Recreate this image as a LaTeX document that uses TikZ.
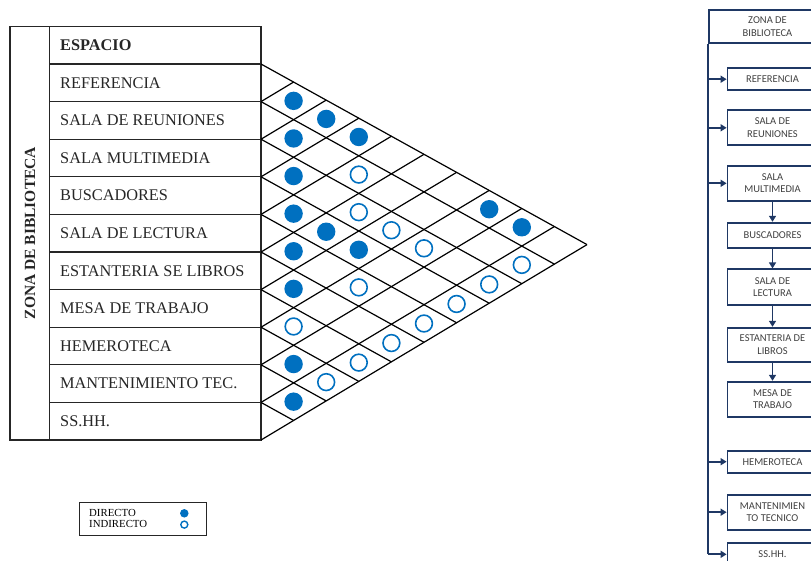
\documentclass[tikz,border=0pt]{standalone}
\usepackage{fontspec}
\setmainfont{Liberation Serif}
\newfontfamily\boxfont{Carlito}
\usetikzlibrary{arrows.meta,positioning}
\definecolor{navy}{RGB}{31,56,100}
\definecolor{dotblue}{RGB}{0,112,192}
\begin{document}
\begin{tikzpicture}[x=1pt, y=-1pt,
    espacio/.style={anchor=west, inner sep=0pt, font=\fontsize{16.3}{19}\selectfont, text=black!85},
    lleno/.style={circle, fill=dotblue, minimum size=18.4pt, inner sep=0pt},
    vacio/.style={circle, draw=dotblue, line width=1.6pt, minimum size=16.8pt, inner sep=0pt},
    caja/.style={draw=navy, line width=1.8pt, minimum width=90pt, minimum height=22pt, align=center, font=\boxfont\fontsize{10.5}{12.5}\selectfont, text=black!75},
    arr/.style={-{Triangle[length=6pt,width=7pt]}, navy, line width=1.8pt},
    linea/.style={black!85, line width=1.2pt}
]
\useasboundingbox (0,0) rectangle (811,560);
\clip (0,0) rectangle (811,560);

\draw[linea] (10,26.5) rectangle (261,440);
\draw[linea] (49.5,26.5) -- (49.5,440);
\foreach \k in {0,...,9}
  \draw[linea] (49.5,{64+37.6*\k}) -- (261,{64+37.6*\k});

\node[rotate=90, font=\bfseries\fontsize{15.5}{18}\selectfont, text=black!85] (zona) at (30,233) {ZONA DE BIBLIOTECA};
\node[espacio, font=\bfseries\fontsize{16.3}{19}\selectfont] (esp) at (60,45.3) {ESPACIO};
\node[espacio] (r1) at (60,82.8) {REFERENCIA};
\node[espacio] (r2) at (60,120.4) {SALA DE REUNIONES};
\node[espacio] (r3) at (60,158) {SALA MULTIMEDIA};
\node[espacio] (r4) at (60,195.6) {BUSCADORES};
\node[espacio] (r5) at (60,233.2) {SALA DE LECTURA};
\node[espacio] (r6) at (60,270.8) {ESTANTERIA SE LIBROS};
\node[espacio] (r7) at (60,308.4) {MESA DE TRABAJO};
\node[espacio] (r8) at (60,346) {HEMEROTECA};
\node[espacio] (r9) at (60,383.6) {MANTENIMIENTO TEC.};
\node[espacio] (r10) at (60,421.2) {SS.HH.};

\foreach \k in {0,...,10} {
  \draw[black, line width=1.2pt] (261,{64+37.6*\k}) -- ++({32.6*(10-\k)},{18.06*(10-\k)});
  \draw[black, line width=1.2pt] (261,{64+37.6*\k}) -- ++({32.6*\k},{-19.54*\k});
}

\foreach \i/\j [count=\n] in {1/2,1/3,1/4,1/8,1/9,2/3,3/4,4/5,4/6,4/7,5/6,6/7,8/9,9/10}
  \node[lleno] (f\n) at ({261+32.6*(\j-\i)},{64+37.6*(\i-0.5)+18.06*(\j-\i)}) {};
\foreach \i/\j [count=\n] in {2/5,2/10,3/6,3/7,3/8,3/10,4/10,5/8,5/10,6/10,7/8,7/10,8/10}
  \node[vacio] (o\n) at ({261+32.6*(\j-\i)},{64+37.6*(\i-0.5)+18.06*(\j-\i)}) {};

\draw[linea, line width=0.8pt] (79,502.3) rectangle (206.7,535.7);
\node[anchor=west, inner sep=0pt, font=\fontsize{10.8}{11}\selectfont] (ldir) at (89,513.3) {DIRECTO};
\node[anchor=west, inner sep=0pt, font=\fontsize{10.8}{11}\selectfont] (lind) at (89,524.4) {INDIRECTO};
\node[circle, fill=dotblue, minimum size=8.5pt, inner sep=0pt] (ld) at (184.3,513.3) {};
\node[circle, draw=dotblue, line width=1.4pt, minimum size=7pt, inner sep=0pt] (li) at (184.3,524.6) {};

\node[caja, minimum width=117pt, minimum height=33pt] (top) at (767.5,26.7) {ZONA DE\\BIBLIOTECA};
\node[caja] (ref) at (772.5,79.2) {REFERENCIA};
\node[caja, minimum height=35pt] (reun) at (772.5,127.8) {SALA DE\\REUNIONES};
\node[caja, minimum height=35pt] (multi) at (772.5,183.3) {SALA\\MULTIMEDIA};
\node[caja, minimum height=25pt] (busc) at (772.5,235.2) {BUSCADORES};
\node[caja, minimum height=36pt] (lect) at (772.5,287.3) {SALA DE\\LECTURA};
\node[caja, minimum height=34pt] (estan) at (772.5,344.7) {ESTANTERIA DE\\LIBROS};
\node[caja, minimum height=35pt] (mesa) at (772.5,399.2) {MESA DE\\TRABAJO};
\node[caja] (hemer) at (772.5,461.7) {HEMEROTECA};
\node[caja, minimum height=35pt] (mant) at (772.5,512.2) {MANTENIMIEN\\TO TECNICO};
\node[caja] (ss) at (772.5,554.3) {SS.HH.};

\draw[navy, line width=1.8pt] (top.south west) -- (top.south west |- ss.west);
\draw[arr] (ref.west -| top.south west) -- (ref.west);
\draw[arr] (reun.west -| top.south west) -- (reun.west);
\draw[arr] (multi.west -| top.south west) -- (multi.west);
\draw[arr] (hemer.west -| top.south west) -- (hemer.west);
\draw[arr] (mant.west -| top.south west) -- (mant.west);
\draw[arr] (ss.west -| top.south west) -- (ss.west);
\draw[arr] (multi) -- (busc);
\draw[arr] (busc) -- (lect);
\draw[arr] (lect) -- (estan);
\draw[arr] (estan) -- (mesa);
\end{tikzpicture}
\end{document}
